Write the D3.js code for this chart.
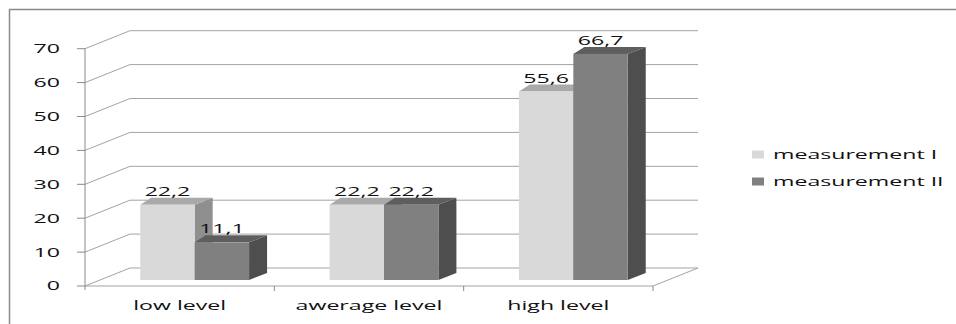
<!DOCTYPE html>
<html>
<head>
<meta charset="utf-8">
<script src="https://cdn.jsdelivr.net/npm/d3@7"></script>
<style>
  html, body { margin: 0; padding: 0; background: #fff; }
  svg { display: block; }
  text { font-family: "Open Sans", "DejaVu Sans", sans-serif; fill: #111; }
</style>
</head>
<body>
<svg id="chart" width="956" height="324"></svg>
<script>
// Levels and two measurements (percent)
const categories = ["low level", "awerage level", "high level"];
const seriesNames = ["measurement I", "measurement II"];
const measurementI = [22.2, 22.2, 55.6];
const measurementII = [11.1, 22.2, 66.7];
const yTicks = [0, 10, 20, 30, 40, 50, 60, 70];

const seriesValues = [measurementI, measurementII];
const fmt = v => d3.format(".1f")(v).replace(".", ",");

// face colours per series: front, top, side
const faceColors = [
  { front: "#d9d9d9", top: "#a9a9a9", side: "#8f8f8f" },
  { front: "#808080", top: "#5e5e5e", side: "#4e4e4e" }
];

const svg = d3.select("#chart");
const SX = 1.78;          // horizontal text stretch
const FS = 13;            // font size

// plot frame (front plane) and depth offsets of the walls
const left = 85, right = 653, bottom = 286;
const wallDX = 45, wallDY = -18;
// bars sit inside the floor depth
const barDX0 = 15, barDY0 = -6;       // front face offset
const barTopL = 11, barTopR = 18, barDepthDY = -7; // top/side face slant

const y = d3.scaleLinear().domain([0, 70]).range([bottom, 48.7]);
const x0 = d3.scaleBand().domain(categories).range([left, right]);
const x1 = d3.scaleBand().domain(seriesNames).range([0, x0.bandwidth()])
  .paddingInner(0).paddingOuter(0.74);

// border
svg.append("path")
  .attr("d", "M9.5,324V9.5H956")
  .attr("fill", "none").attr("stroke", "#8a8a8a").attr("stroke-width", 1.5);

const grid = svg.append("g").attr("stroke", "#a3a3a3").attr("fill", "none").attr("stroke-width", 1);

// side wall diagonals and back-wall gridlines
yTicks.forEach(t => {
  const yy = y(t);
  grid.append("path").attr("d", `M${left},${yy}L${left + wallDX},${yy + wallDY}L${right + wallDX},${yy + wallDY}`);
});
// floor front edge and right edge
grid.append("path").attr("d", `M${left},${bottom}H${right}L${right + wallDX},${bottom + wallDY}`);

// front vertical axis with ticks
const axisG = svg.append("g").attr("stroke", "#8a8a8a").attr("fill", "none");
axisG.append("line").attr("x1", left).attr("x2", left).attr("y1", y(70)).attr("y2", bottom + 4);
yTicks.forEach(t => {
  axisG.append("line").attr("x1", left - 8).attr("x2", left).attr("y1", y(t)).attr("y2", y(t));
});
// category separators on the floor edge
x0.domain().forEach((c, i) => {
  const xx = x0(c) + x0.bandwidth();
  axisG.append("line").attr("x1", xx).attr("x2", xx).attr("y1", bottom).attr("y2", bottom + 5);
});

// tick labels
svg.append("g").selectAll("text").data(yTicks).join("text")
  .attr("transform", d => `translate(60,${y(d) + 1}) scale(${SX},1)`)
  .attr("text-anchor", "end")
  .attr("dominant-baseline", "middle")
  .attr("font-size", FS)
  .text(d => d);

// category labels
svg.append("g").selectAll("text").data(categories).join("text")
  .attr("transform", d => `translate(${x0(d) + x0.bandwidth() / 2},310) scale(${SX},1)`)
  .attr("text-anchor", "middle")
  .attr("font-size", FS)
  .text(d => d);

// 3D bars
const bars = svg.append("g");
categories.forEach((cat, ci) => {
  seriesNames.forEach((s, si) => {
    const v = seriesValues[si][ci];
    const c = faceColors[si];
    const xa = x0(cat) + x1(s) + barDX0;
    const xb = xa + x1.bandwidth();
    const yb = y(0) + barDY0;
    const yt = y(v) + barDY0;
    const g = bars.append("g");
    // side face
    g.append("path")
      .attr("d", `M${xb},${yb}L${xb + barTopR},${yb + barDepthDY}L${xb + barTopR},${yt + barDepthDY}L${xb},${yt}Z`)
      .attr("fill", c.side);
    // top face
    g.append("path")
      .attr("d", `M${xa},${yt}L${xa + barTopL},${yt + barDepthDY}L${xb + barTopR},${yt + barDepthDY}L${xb},${yt}Z`)
      .attr("fill", c.top);
    // front face
    g.append("rect")
      .attr("x", xa).attr("y", yt)
      .attr("width", xb - xa).attr("height", yb - yt)
      .attr("fill", c.front);
  });
});

// value labels
categories.forEach((cat, ci) => {
  seriesNames.forEach((s, si) => {
    const v = seriesValues[si][ci];
    const xc = x0(cat) + x1(s) + barDX0 + x1.bandwidth() / 2;
    svg.append("text")
      .attr("transform", `translate(${xc},${y(v) + barDY0 - 9}) scale(${SX},1)`)
      .attr("text-anchor", "middle")
      .attr("font-size", FS)
      .text(fmt(v));
  });
});

// legend
const legend = svg.append("g");
seriesNames.forEach((s, i) => {
  const baseY = 158.5 + i * 27;
  legend.append("rect")
    .attr("x", 752).attr("y", baseY - 8).attr("width", 12).attr("height", 8)
    .attr("fill", faceColors[i].front);
  legend.append("text")
    .attr("transform", `translate(773,${baseY}) scale(${SX},1)`)
    .attr("font-size", FS)
    .text(s);
});
</script>
</body>
</html>
